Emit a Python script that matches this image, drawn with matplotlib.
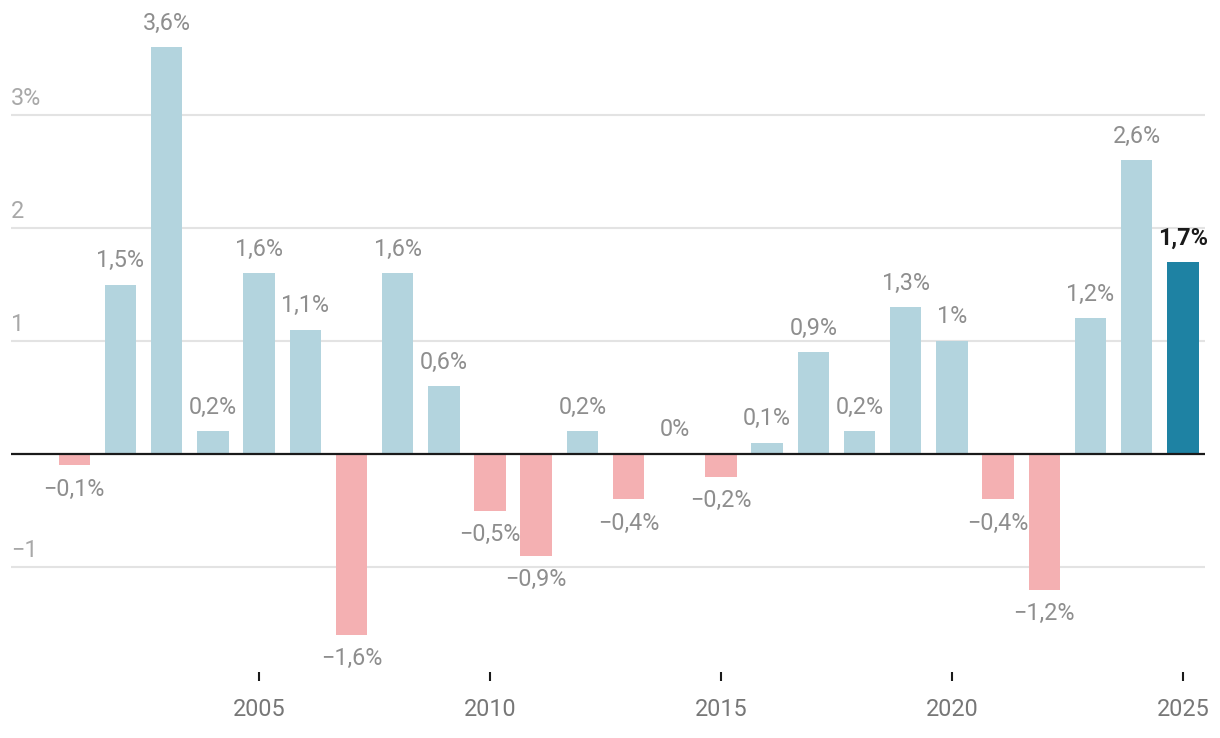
import matplotlib
matplotlib.use("Agg")
import matplotlib.pyplot as plt
from matplotlib.transforms import blended_transform_factory

years = list(range(2001, 2026))
values = [-0.1, 1.5, 3.6, 0.2, 1.6, 1.1, -1.6, 1.6, 0.6, -0.5, -0.9, 0.2, -0.4, 0.0,
          -0.2, 0.1, 0.9, 0.2, 1.3, 1.0, -0.4, -1.2, 1.2, 2.6, 1.7]
labels = ["−0,1%", "1,5%", "3,6%", "0,2%", "1,6%", "1,1%", "−1,6%", "1,6%", "0,6%",
          "−0,5%", "−0,9%", "0,2%", "−0,4%", "0%", "−0,2%", "0,1%", "0,9%", "0,2%",
          "1,3%", "1%", "−0,4%", "−1,2%", "1,2%", "2,6%", "1,7%"]
xticks = [2005, 2010, 2015, 2020, 2025]
yticks = [-1, 1, 2, 3]
ytick_labels = ["−1", "1", "2", "3%"]

FONT = ["Roboto", "DejaVu Sans"]
plt.rcParams["font.family"] = FONT
FS = 16.8

W, H = 1220, 738
fig = plt.figure(figsize=(W / 100, H / 100), dpi=100)
left, right = 11, 1205
top, bottom = 20, 672
ax = fig.add_axes([left / W, (H - bottom) / H, (right - left) / W, (bottom - top) / H])
ax.set_xlim(1999.63, 2025.48)
ax.set_ylim(-(bottom - 454) / 113.0, (454 - top) / 113.0)

pos_c, neg_c, hi_c = "#b3d4de", "#f4b0b2", "#1e82a3"
colors = []
for y, v in zip(years, values):
    if y == years[-1]:
        colors.append(hi_c)
    elif v < 0:
        colors.append(neg_c)
    else:
        colors.append(pos_c)

for g in yticks:
    ax.axhline(g, color="#e3e3e3", lw=1.5, zorder=0)

ax.bar(years, values, width=0.68, color=colors, zorder=2)
ax.axhline(0, color="#1a1a1a", lw=1.6, zorder=3)

for y, v, lab in zip(years, values, labels):
    last = y == years[-1]
    off = 17.3 if v >= 0 else -17.3
    ax.annotate(lab, (y, v), xytext=(0, off), textcoords="offset points",
                ha="center", va="center", fontsize=FS,
                color="#1a1a1a" if last else "#8e8e8e",
                fontweight="bold" if last else "normal", zorder=4)

tr = blended_transform_factory(ax.transAxes, ax.transData)
for g, lab in zip(yticks, ytick_labels):
    ax.annotate(lab, (0, g), xycoords=tr, xytext=(0, 3.5), textcoords="offset points",
                ha="left", va="bottom", fontsize=FS, color="#a8a8a8")

for s in ax.spines.values():
    s.set_visible(False)
ax.set_yticks([])
ax.set_xticks(xticks)
ax.set_xticklabels([str(t) for t in xticks])
ax.tick_params(axis="x", direction="out", length=6.5, width=1.5, color="#1a1a1a",
               pad=12, labelsize=FS, labelcolor="#777777")

fig.savefig("out.png", dpi=100)
